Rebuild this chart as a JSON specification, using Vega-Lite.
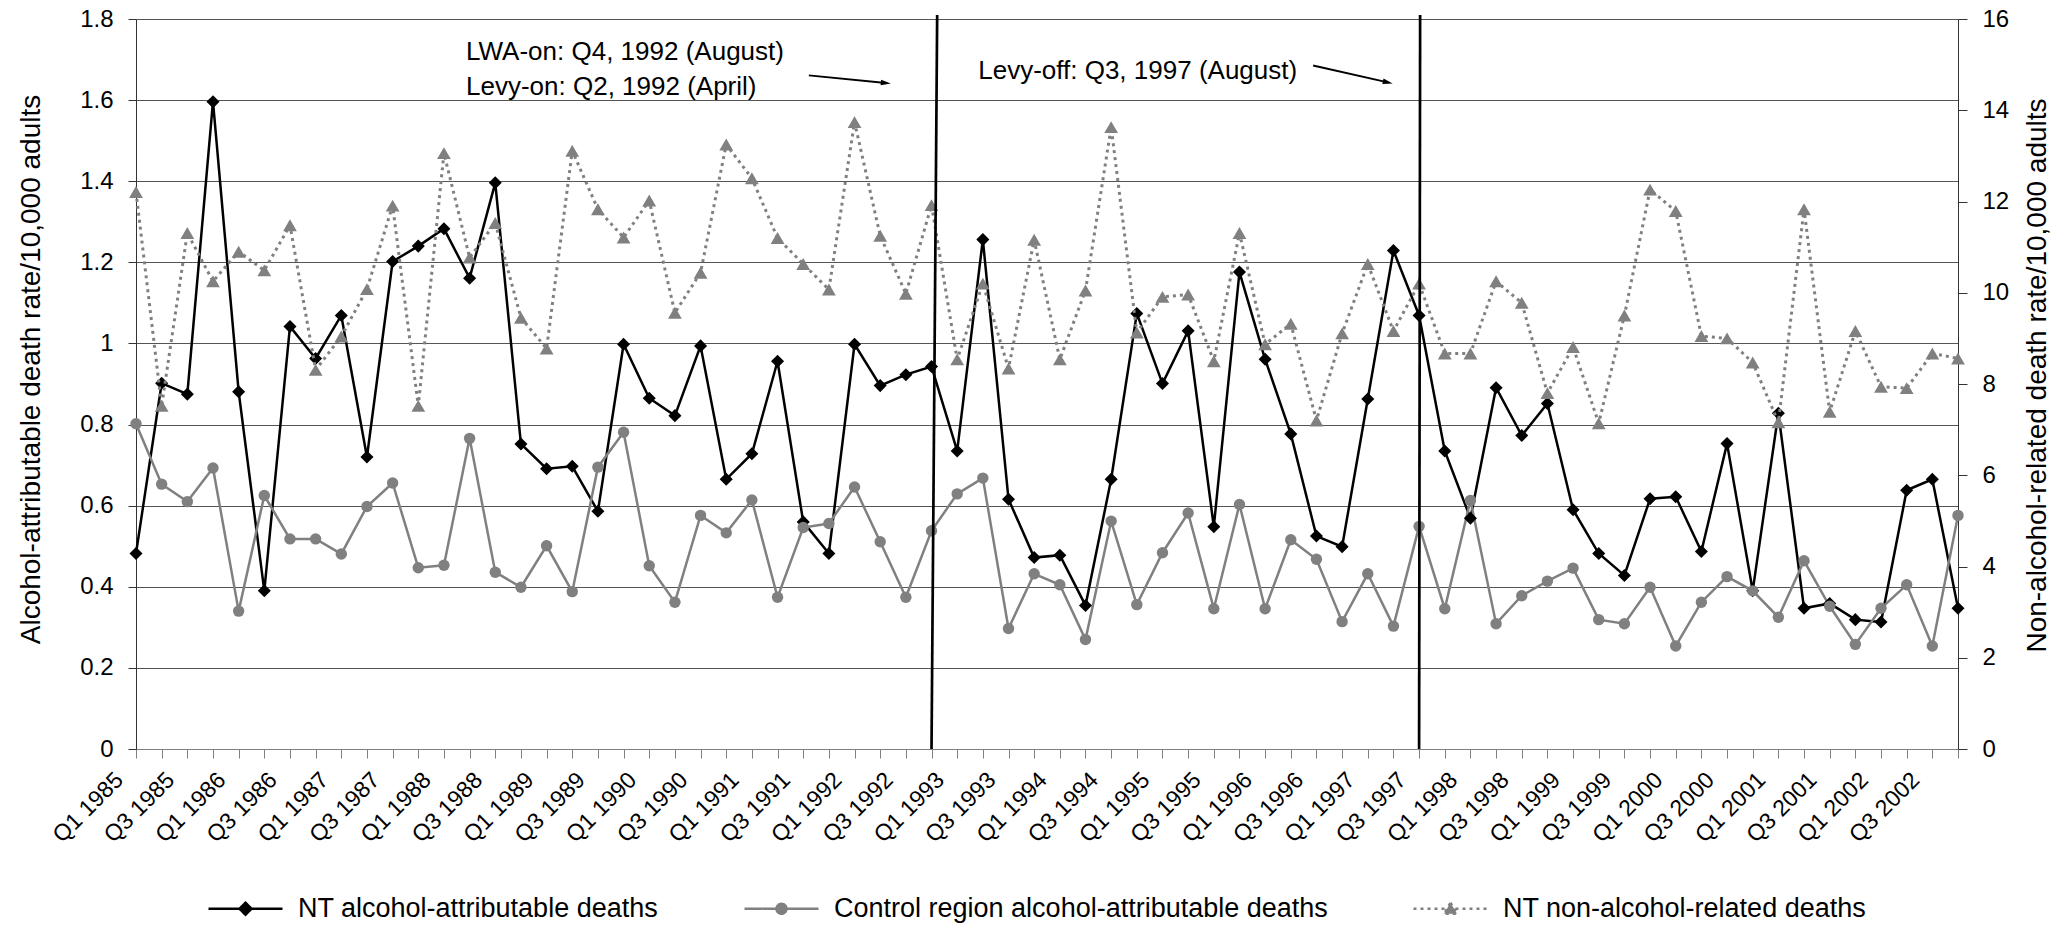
{
  "$schema": "https://vega.github.io/schema/vega-lite/v6.json",
  "width": 1822,
  "height": 730,
  "autosize": {"type": "none"},
  "padding": {"left": 136, "top": 19, "right": 114, "bottom": 176},
  "background": "white",
  "config": {
    "view": {"stroke": null},
    "font": "Liberation Sans",
    "axis": {"labelFont": "Liberation Sans", "titleFont": "Liberation Sans", "labelColor": "#000000", "titleColor": "#000000", "titleFontWeight": "normal"},
    "legend": {"labelFont": "Liberation Sans", "labelColor": "#000000"}
  },
  "datasets": {
    "quarters": [
      {"t": 0, "q": "Q1 1985", "nt": 0.482, "ctrl": 0.802, "non": 12.21},
      {"t": 1, "q": "Q2 1985", "nt": 0.902, "ctrl": 0.653, "non": 7.52},
      {"t": 2, "q": "Q3 1985", "nt": 0.875, "ctrl": 0.610, "non": 11.31},
      {"t": 3, "q": "Q4 1985", "nt": 1.596, "ctrl": 0.693, "non": 10.25},
      {"t": 4, "q": "Q1 1986", "nt": 0.881, "ctrl": 0.340, "non": 10.90},
      {"t": 5, "q": "Q2 1986", "nt": 0.390, "ctrl": 0.625, "non": 10.49},
      {"t": 6, "q": "Q3 1986", "nt": 1.042, "ctrl": 0.518, "non": 11.48},
      {"t": 7, "q": "Q4 1986", "nt": 0.963, "ctrl": 0.518, "non": 8.31},
      {"t": 8, "q": "Q1 1987", "nt": 1.069, "ctrl": 0.481, "non": 9.04},
      {"t": 9, "q": "Q2 1987", "nt": 0.720, "ctrl": 0.598, "non": 10.08},
      {"t": 10, "q": "Q3 1987", "nt": 1.202, "ctrl": 0.656, "non": 11.91},
      {"t": 11, "q": "Q4 1987", "nt": 1.240, "ctrl": 0.447, "non": 7.52},
      {"t": 12, "q": "Q1 1988", "nt": 1.283, "ctrl": 0.453, "non": 13.06},
      {"t": 13, "q": "Q2 1988", "nt": 1.161, "ctrl": 0.766, "non": 10.77},
      {"t": 14, "q": "Q3 1988", "nt": 1.396, "ctrl": 0.436, "non": 11.53},
      {"t": 15, "q": "Q4 1988", "nt": 0.752, "ctrl": 0.399, "non": 9.45},
      {"t": 16, "q": "Q1 1989", "nt": 0.691, "ctrl": 0.501, "non": 8.78},
      {"t": 17, "q": "Q2 1989", "nt": 0.697, "ctrl": 0.388, "non": 13.11},
      {"t": 18, "q": "Q3 1989", "nt": 0.586, "ctrl": 0.695, "non": 11.83},
      {"t": 19, "q": "Q4 1989", "nt": 0.998, "ctrl": 0.781, "non": 11.21},
      {"t": 20, "q": "Q1 1990", "nt": 0.865, "ctrl": 0.452, "non": 12.02},
      {"t": 21, "q": "Q2 1990", "nt": 0.822, "ctrl": 0.362, "non": 9.56},
      {"t": 22, "q": "Q3 1990", "nt": 0.994, "ctrl": 0.576, "non": 10.44},
      {"t": 23, "q": "Q4 1990", "nt": 0.665, "ctrl": 0.533, "non": 13.25},
      {"t": 24, "q": "Q1 1991", "nt": 0.728, "ctrl": 0.614, "non": 12.51},
      {"t": 25, "q": "Q2 1991", "nt": 0.956, "ctrl": 0.374, "non": 11.20},
      {"t": 26, "q": "Q3 1991", "nt": 0.560, "ctrl": 0.546, "non": 10.63},
      {"t": 27, "q": "Q4 1991", "nt": 0.482, "ctrl": 0.556, "non": 10.07},
      {"t": 28, "q": "Q1 1992", "nt": 0.998, "ctrl": 0.646, "non": 13.74},
      {"t": 29, "q": "Q2 1992", "nt": 0.896, "ctrl": 0.511, "non": 11.25},
      {"t": 30, "q": "Q3 1992", "nt": 0.923, "ctrl": 0.374, "non": 9.98},
      {"t": 31, "q": "Q4 1992", "nt": 0.943, "ctrl": 0.538, "non": 11.92},
      {"t": 32, "q": "Q1 1993", "nt": 0.735, "ctrl": 0.629, "non": 8.54},
      {"t": 33, "q": "Q2 1993", "nt": 1.256, "ctrl": 0.668, "non": 10.20},
      {"t": 34, "q": "Q3 1993", "nt": 0.616, "ctrl": 0.297, "non": 8.34},
      {"t": 35, "q": "Q4 1993", "nt": 0.472, "ctrl": 0.432, "non": 11.16},
      {"t": 36, "q": "Q1 1994", "nt": 0.478, "ctrl": 0.405, "non": 8.54},
      {"t": 37, "q": "Q2 1994", "nt": 0.354, "ctrl": 0.270, "non": 10.05},
      {"t": 38, "q": "Q3 1994", "nt": 0.665, "ctrl": 0.562, "non": 13.63},
      {"t": 39, "q": "Q4 1994", "nt": 1.074, "ctrl": 0.356, "non": 9.13},
      {"t": 40, "q": "Q1 1995", "nt": 0.901, "ctrl": 0.484, "non": 9.91},
      {"t": 41, "q": "Q2 1995", "nt": 1.031, "ctrl": 0.582, "non": 9.96},
      {"t": 42, "q": "Q3 1995", "nt": 0.548, "ctrl": 0.346, "non": 8.50},
      {"t": 43, "q": "Q4 1995", "nt": 1.176, "ctrl": 0.603, "non": 11.31},
      {"t": 44, "q": "Q1 1996", "nt": 0.961, "ctrl": 0.346, "non": 8.87},
      {"t": 45, "q": "Q2 1996", "nt": 0.777, "ctrl": 0.516, "non": 9.32},
      {"t": 46, "q": "Q3 1996", "nt": 0.525, "ctrl": 0.468, "non": 7.20},
      {"t": 47, "q": "Q4 1996", "nt": 0.499, "ctrl": 0.314, "non": 9.11},
      {"t": 48, "q": "Q1 1997", "nt": 0.863, "ctrl": 0.432, "non": 10.63},
      {"t": 49, "q": "Q2 1997", "nt": 1.229, "ctrl": 0.303, "non": 9.16},
      {"t": 50, "q": "Q3 1997", "nt": 1.069, "ctrl": 0.549, "non": 10.20},
      {"t": 51, "q": "Q4 1997", "nt": 0.735, "ctrl": 0.346, "non": 8.67},
      {"t": 52, "q": "Q1 1998", "nt": 0.569, "ctrl": 0.613, "non": 8.67},
      {"t": 53, "q": "Q2 1998", "nt": 0.891, "ctrl": 0.309, "non": 10.25},
      {"t": 54, "q": "Q3 1998", "nt": 0.773, "ctrl": 0.378, "non": 9.78},
      {"t": 55, "q": "Q4 1998", "nt": 0.852, "ctrl": 0.414, "non": 7.80},
      {"t": 56, "q": "Q1 1999", "nt": 0.590, "ctrl": 0.446, "non": 8.81},
      {"t": 57, "q": "Q2 1999", "nt": 0.482, "ctrl": 0.319, "non": 7.14},
      {"t": 58, "q": "Q3 1999", "nt": 0.428, "ctrl": 0.309, "non": 9.50},
      {"t": 59, "q": "Q4 1999", "nt": 0.617, "ctrl": 0.399, "non": 12.26},
      {"t": 60, "q": "Q1 2000", "nt": 0.622, "ctrl": 0.254, "non": 11.79},
      {"t": 61, "q": "Q2 2000", "nt": 0.487, "ctrl": 0.362, "non": 9.05},
      {"t": 62, "q": "Q3 2000", "nt": 0.753, "ctrl": 0.425, "non": 9.00},
      {"t": 63, "q": "Q4 2000", "nt": 0.390, "ctrl": 0.390, "non": 8.47},
      {"t": 64, "q": "Q1 2001", "nt": 0.828, "ctrl": 0.325, "non": 7.16},
      {"t": 65, "q": "Q2 2001", "nt": 0.347, "ctrl": 0.464, "non": 11.83},
      {"t": 66, "q": "Q3 2001", "nt": 0.359, "ctrl": 0.352, "non": 7.39},
      {"t": 67, "q": "Q4 2001", "nt": 0.319, "ctrl": 0.258, "non": 9.16},
      {"t": 68, "q": "Q1 2002", "nt": 0.313, "ctrl": 0.347, "non": 7.94},
      {"t": 69, "q": "Q2 2002", "nt": 0.638, "ctrl": 0.405, "non": 7.91},
      {"t": 70, "q": "Q3 2002", "nt": 0.665, "ctrl": 0.254, "non": 8.67},
      {"t": 71, "q": "Q4 2002", "nt": 0.347, "ctrl": 0.576, "non": 8.56}
    ],
    "series": [
      {"key": "nt", "name": "NT alcohol-attributable deaths"},
      {"key": "ctrl", "name": "Control region alcohol-attributable deaths"},
      {"key": "non", "name": "NT non-alcohol-related deaths"}
    ],
    "notes": [
      {"label": "LWA-on: Q4, 1992 (August)", "t": 12.86, "v": 1.699},
      {"label": "Levy-on: Q2, 1992 (April)", "t": 12.86, "v": 1.613},
      {"label": "Levy-off: Q3, 1997 (August)", "t": 32.82, "v": 1.653}
    ],
    "arrows": [
      {"id": "lwa", "t": 26.22, "v": 1.661, "t2": 29.22, "v2": 1.642},
      {"id": "off", "t": 45.87, "v": 1.6853, "t2": 48.78, "v2": 1.6437}
    ],
    "events": [
      {"event": "LWA-on", "t": 31, "t2": 31.22},
      {"event": "Levy-off", "t": 50, "t2": 50.04}
    ]
  },
  "encoding": {
    "x": {
      "field": "t",
      "type": "quantitative",
      "scale": {"domain": [0, 71], "nice": false, "zero": false},
      "axis": {
        "title": null,
        "values": [0,1,2,3,4,5,6,7,8,9,10,11,12,13,14,15,16,17,18,19,20,21,22,23,24,25,26,27,28,29,30,31,32,33,34,35,36,37,38,39,40,41,42,43,44,45,46,47,48,49,50,51,52,53,54,55,56,57,58,59,60,61,62,63,64,65,66,67,68,69,70,71],
        "labelExpr": "datum.value % 2 === 0 ? 'Q' + (datum.value % 4 + 1) + ' ' + (1985 + floor(datum.value / 4)) : ''",
        "labelAngle": -45,
        "labelAlign": "right",
        "labelBaseline": "middle",
        "labelFontSize": 23,
        "labelPadding": 18,
        "labelOffset": -17,
        "labelOverlap": false,
        "labelBound": false,
        "labelFlush": false,
        "tickSize": 9,
        "tickColor": "#808080",
        "domainColor": "#808080",
        "grid": false
      }
    }
  },
  "layer": [
    {
      "layer": [
        {
          "data": {"name": "quarters"},
          "transform": [
            {"fold": ["nt", "ctrl"], "as": ["key", "v"]},
            {"lookup": "key", "from": {"data": {"name": "series"}, "key": "key", "fields": ["name"]}}
          ],
          "mark": {"type": "line", "strokeWidth": 2.5},
          "encoding": {
            "y": {
              "field": "v",
              "type": "quantitative",
              "scale": {"domain": [0, 1.8], "nice": false, "zero": true},
              "axis": {
                "orient": "left",
                "values": [0, 0.2, 0.4, 0.6, 0.8, 1, 1.2, 1.4, 1.6, 1.8],
                "format": "~g",
                "grid": true,
                "gridColor": "#555555",
                "gridWidth": 1,
                "domainColor": "#333333",
                "tickColor": "#333333",
                "tickSize": 8,
                "labelFontSize": 24,
                "labelPadding": 15,
                "title": "Alcohol-attributable death rate/10,000 adults",
                "titleFontSize": 28,
                "titlePadding": 34,
                "titleY": 350
              }
            },
            "color": {
              "field": "name",
              "type": "nominal",
              "scale": {
                "domain": ["NT alcohol-attributable deaths", "Control region alcohol-attributable deaths", "NT non-alcohol-related deaths"],
                "range": ["#000000", "#808080", "#808080"]
              },
              "legend": {
                "title": null,
                "orient": "none",
                "legendX": 96,
                "legendY": 876,
                "direction": "horizontal",
                "labelFontSize": 27,
                "labelLimit": 800,
                "symbolSize": 400,
                "symbolStrokeWidth": 2.5,
                "labelOffset": 39,
                "columnPadding": 80,
                "encode": {
                  "symbols": {
                    "update": {
                      "shape": {"signal": "datum.value === 'NT alcohol-attributable deaths' ? 'M-3.7,0H3.7M0,-0.6L0.6,0L0,0.6L-0.6,0Z' : datum.value === 'Control region alcohol-attributable deaths' ? 'M-3.7,0H3.7M0.5,0A0.5,0.5,0,1,1,-0.5,0A0.5,0.5,0,1,1,0.5,0Z' : 'M-3.7,0H3.7M0,-0.6L0.65,0.5L-0.65,0.5Z'"},
                      "fill": {"signal": "datum.value === 'NT alcohol-attributable deaths' ? '#000000' : '#808080'"},
                      "stroke": {"signal": "datum.value === 'NT alcohol-attributable deaths' ? '#000000' : '#808080'"},
                      "strokeDash": {"signal": "datum.value === 'NT non-alcohol-related deaths' ? [3, 4] : [1, 0]"},
                      "opacity": {"value": 1}
                    }
                  }
                }
              }
            }
          }
        },
        {
          "data": {"name": "quarters"},
          "transform": [
            {"fold": ["nt", "ctrl"], "as": ["key", "v"]},
            {"lookup": "key", "from": {"data": {"name": "series"}, "key": "key", "fields": ["name"]}}
          ],
          "mark": {"type": "point", "filled": true, "opacity": 1},
          "encoding": {
            "y": {"field": "v", "type": "quantitative"},
            "color": {"field": "name", "type": "nominal"},
            "shape": {
              "field": "name",
              "type": "nominal",
              "scale": {"domain": ["NT alcohol-attributable deaths", "Control region alcohol-attributable deaths"], "range": ["diamond", "circle"]},
              "legend": null
            },
            "size": {
              "field": "name",
              "type": "nominal",
              "scale": {"domain": ["NT alcohol-attributable deaths", "Control region alcohol-attributable deaths"], "range": [170, 130]},
              "legend": null
            }
          }
        },
        {
          "data": {"name": "notes"},
          "mark": {"type": "text", "align": "left", "baseline": "alphabetic", "fontSize": 26, "font": "Liberation Sans", "color": "#000000"},
          "encoding": {
            "y": {"field": "v", "type": "quantitative"},
            "text": {"field": "label"}
          }
        },
        {
          "data": {"name": "arrows"},
          "mark": {"type": "rule", "color": "#000000", "strokeWidth": 2},
          "encoding": {
            "x2": {"field": "t2"},
            "y": {"field": "v", "type": "quantitative"},
            "y2": {"field": "v2"}
          }
        },
        {
          "data": {"name": "arrows"},
          "transform": [{"filter": "datum.id === 'lwa'"}],
          "mark": {"type": "point", "shape": "M1,0L-1,-0.55L-1,0.55Z", "size": 100, "filled": true, "color": "#000000", "opacity": 1, "angle": 5.7},
          "encoding": {
            "x": {"field": "t2", "type": "quantitative"},
            "y": {"field": "v2", "type": "quantitative"}
          }
        },
        {
          "data": {"name": "arrows"},
          "transform": [{"filter": "datum.id === 'off'"}],
          "mark": {"type": "point", "shape": "M1,0L-1,-0.55L-1,0.55Z", "size": 100, "filled": true, "color": "#000000", "opacity": 1, "angle": 12.8},
          "encoding": {
            "x": {"field": "t2", "type": "quantitative"},
            "y": {"field": "v2", "type": "quantitative"}
          }
        }
      ]
    },
    {
      "layer": [
        {
          "data": {"name": "quarters"},
          "transform": [
            {"fold": ["non"], "as": ["key", "v"]},
            {"lookup": "key", "from": {"data": {"name": "series"}, "key": "key", "fields": ["name"]}}
          ],
          "mark": {"type": "line", "strokeWidth": 3, "strokeDash": [3, 4]},
          "encoding": {
            "y": {
              "field": "v",
              "type": "quantitative",
              "scale": {"domain": [0, 16], "nice": false, "zero": true},
              "axis": {
                "orient": "right",
                "values": [0, 2, 4, 6, 8, 10, 12, 14, 16],
                "format": "d",
                "grid": false,
                "domainColor": "#333333",
                "tickColor": "#333333",
                "tickSize": 9,
                "labelFontSize": 24,
                "labelPadding": 15,
                "title": "Non-alcohol-related death rate/10,000 adults",
                "titleFontSize": 28,
                "titleAngle": 270,
                "titleBaseline": "top",
                "titlePadding": 15,
                "titleY": 356
              }
            },
            "color": {"field": "name", "type": "nominal"}
          }
        },
        {
          "data": {"name": "quarters"},
          "transform": [
            {"fold": ["non"], "as": ["key", "v"]},
            {"lookup": "key", "from": {"data": {"name": "series"}, "key": "key", "fields": ["name"]}}
          ],
          "mark": {"type": "point", "shape": "triangle-up", "filled": true, "size": 190, "opacity": 1},
          "encoding": {
            "y": {"field": "v", "type": "quantitative"},
            "color": {"field": "name", "type": "nominal"}
          }
        },
        {
          "data": {"name": "events"},
          "mark": {"type": "rule", "color": "#000000", "strokeWidth": 2.7},
          "encoding": {
            "x2": {"field": "t2"},
            "y": {"datum": 0},
            "y2": {"datum": 16.09}
          }
        }
      ]
    }
  ],
  "resolve": {"scale": {"y": "independent"}}
}
